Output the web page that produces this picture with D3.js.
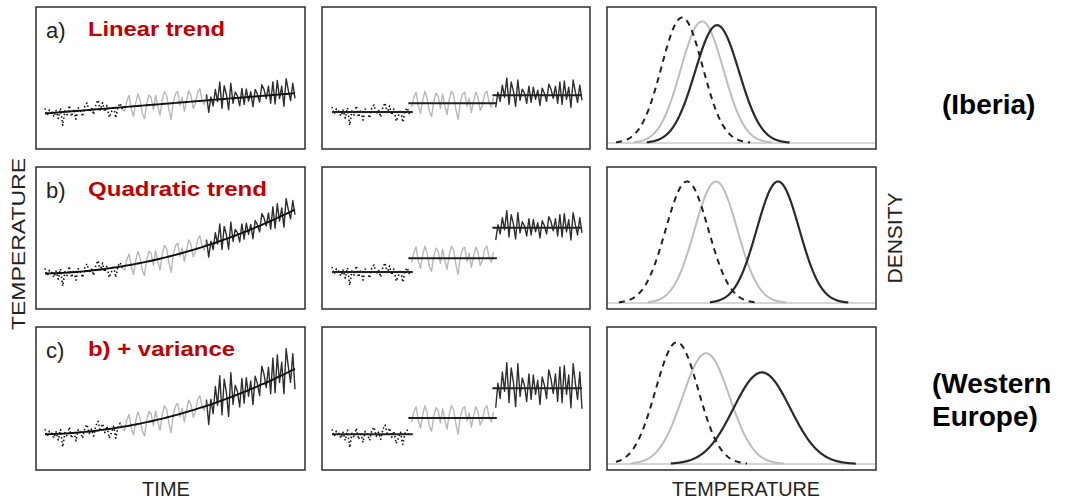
<!DOCTYPE html>
<html>
<head>
<meta charset="utf-8">
<script src="https://cdn.jsdelivr.net/npm/d3@7"></script>
<style>
  body { margin: 0; background: #fff; }
  svg { display: block; font-family: "Liberation Sans", Arial, sans-serif; }
</style>
</head>
<body>
<svg id="viz"></svg>
<script>
// ---------------------------
// Data
// ---------------------------

const rowLetters = ["a)", "b)", "c)"];
const rowTitles = ["Linear trend", "Quadratic trend", "b) + variance"];

// anomalies (temperature units)
const noiseEarly = [0.5, -0.2, 0.3, 0.1, -0.4, 0.2, -0.6, 0.4, -1.3, 0.1, -0.3, 0.6, -0.5, 0.2, -0.8, 0.3, 0.0, -0.6,
    0.4, 0.7, -0.2, 0.2, -0.5, 0.5, 0.9, -0.1, 0.6, -0.3, 0.3, -0.9, -0.4, 0.2, -1.0, 0.1, 0.4, -0.2];
const noiseMid = [-0.4, 0.6, 1.1, -0.2, -1.0, 0.3, 1.2, 0.5, -0.8, -1.3, 0.2, 1.0, 0.7, -0.5, 0.9, -0.2, -1.1, 0.4, 1.2,
    0.8, -0.6, -1.6, 0.1, 0.9, 1.1, -0.3, 0.5, -0.9, 0.2, 1.1, 0.6, -0.7, -0.2, 0.9, 1.2, 0.1, -0.4, 0.6];
const noiseLate = [-1.2, 0.3, -0.6, 1.0, -0.2, 1.7, -0.9, 1.3, 0.4, -1.1, 1.5, -0.5, 0.6, 0.2, -0.8, 0.9, -0.7, 0.8, -0.4, 0.5,
    -1.0, 0.7, 0.2, -0.6, 1.1, 0.6, -0.3, 0.9, -0.8, 1.3, -0.9, 1.4, -0.4, 0.8, -1.2, 1.5, 0.3, -0.7, 1.0, -0.5];
const noiseLateWide = [-1.9, 0.5, -1.0, 1.6, -0.3, 2.5, -1.4, 2.0, 0.6, -1.8, 2.4, -0.8, 1.0, 0.3, -1.3, 1.4, -1.1, 1.3, -0.6, 0.8,
    -1.6, 1.1, 0.3, -1.0, 1.8, 0.9, -0.5, 1.4, -1.3, 2.1, -1.4, 2.2, -0.6, 1.3, -1.9, 2.4, 0.5, -1.1, 1.6, -2.0];

// trend = a*t + b*t^2, t from 0 to 1
const trendA = [2.0, 0.5, 0.5];
const trendB = [0.0, 5.8, 5.9];

// segment means shown in the middle column
const segMeans = [
    [0.15, 1.0, 1.8],
    [0.15, 1.5, 4.5],
    [0.0, 1.6, 4.5]
];

// density curves: dashed (early), grey (mid), dark (late)
const densMeans = [
    [3.35, 4.24, 4.91],
    [3.57, 4.86, 7.63],
    [3.12, 4.42, 6.91]
];
const densSds = [
    [0.92, 0.95, 0.98],
    [0.95, 0.95, 0.95],
    [0.955, 1.05, 1.27]
];

// ---------------------------
// Create SVG
// ---------------------------

const width = 1069;
const height = 502;

const svg = d3.select("#viz")
    .attr("width", width)
    .attr("height", height)
    .attr("viewBox", `0 0 ${width} ${height}`);

const cols = [[36, 305], [322, 590], [607, 876]];
const rowsY = [[7, 149], [167, 309], [327, 470]];

const segNoise = (r) => [noiseEarly, noiseMid, r === 2 ? noiseLateWide : noiseLate];
const nTotal = noiseEarly.length + noiseMid.length + noiseLate.length;

const segStyle = [
    {stroke: "#111", width: 1.6, dash: "1.5,2.4"},
    {stroke: "#b8b8b8", width: 1.4, dash: null},
    {stroke: "#2e2e2e", width: 1.4, dash: null}
];

function panelBox(c, r) {
    svg.append("rect")
        .attr("x", cols[c][0])
        .attr("y", rowsY[r][0])
        .attr("width", cols[c][1] - cols[c][0])
        .attr("height", rowsY[r][1] - rowsY[r][0])
        .attr("fill", "none")
        .attr("stroke", "#3a3a3a")
        .attr("stroke-width", 1.6);
}

rowsY.forEach((ry, r) => {

    const y = d3.scaleLinear([-3.5, 10.5], [ry[1], ry[0]]);
    const noise = segNoise(r);

    // build segments (index offsets)
    let offset = 0;
    const segs = noise.map(arr => {
        const s = arr.map((v, i) => ({i: offset + i, v}));
        offset += arr.length;
        return s;
    });

    const trend = i => {
        const t = i / (nTotal - 1);
        return trendA[r] * t + trendB[r] * t * t;
    };

    // ----- left: series + trend -----
    const xL = d3.scaleLinear([0, nTotal - 1], [cols[0][0] + 9, cols[0][1] - 10]);
    const g1 = svg.append("g");

    segs.forEach((s, k) => {
        const pts = k > 0 ? [segs[k - 1][segs[k - 1].length - 1]].concat(s) : s;
        g1.append("path")
            .datum(pts)
            .attr("fill", "none")
            .attr("stroke", segStyle[k].stroke)
            .attr("stroke-width", segStyle[k].width)
            .attr("stroke-dasharray", segStyle[k].dash)
            .attr("stroke-linejoin", "round")
            .attr("d", d3.line().x(d => xL(d.i)).y(d => y(trend(d.i) + d.v)));
    });

    g1.append("path")
        .datum(d3.range(0, nTotal))
        .attr("fill", "none")
        .attr("stroke", "#111")
        .attr("stroke-width", 1.9)
        .attr("d", d3.line().x(i => xL(i)).y(i => y(trend(i))));

    panelBox(0, r);

    svg.append("text")
        .attr("x", 46)
        .attr("y", ry[0] + 31)
        .attr("font-size", 22)
        .attr("fill", "#222")
        .text(rowLetters[r]);

    svg.append("text")
        .attr("x", 88)
        .attr("y", ry[0] + 29)
        .attr("font-size", 21)
        .attr("font-weight", "bold")
        .attr("fill", "#c00000")
        .attr("textLength", [137, 179, 147][r])
        .attr("lengthAdjust", "spacingAndGlyphs")
        .text(rowTitles[r]);

    // ----- middle: segment means -----
    const xM = d3.scaleLinear([0, nTotal - 1], [cols[1][0] + 10, cols[1][1] - 8]);
    const g2 = svg.append("g");

    segs.forEach((s, k) => {
        g2.append("path")
            .datum(s)
            .attr("fill", "none")
            .attr("stroke", segStyle[k].stroke)
            .attr("stroke-width", segStyle[k].width)
            .attr("stroke-dasharray", segStyle[k].dash)
            .attr("stroke-linejoin", "round")
            .attr("d", d3.line().x(d => xM(d.i)).y(d => y(segMeans[r][k] + d.v)));
    });

    segs.forEach((s, k) => {
        const i0 = s[0].i - (k > 0 ? 1.5 : 0);
        const i1 = s[s.length - 1].i + (k < 2 ? 1.5 : 0);
        g2.append("line")
            .attr("x1", xM(i0))
            .attr("x2", xM(i1))
            .attr("y1", y(segMeans[r][k]))
            .attr("y2", y(segMeans[r][k]))
            .attr("stroke", "#222")
            .attr("stroke-width", 2);
    });

    panelBox(1, r);

    // ----- right: densities -----
    const xD = d3.scaleLinear([0, 12], [cols[2][0], cols[2][1]]);
    const yD = d3.scaleLinear([0, 0.47], [ry[1] - 6, ry[0]]);
    const g3 = svg.append("g");

    g3.append("line")
        .attr("x1", cols[2][0])
        .attr("x2", cols[2][1])
        .attr("y1", yD(0))
        .attr("y2", yD(0))
        .attr("stroke", "#c8c8c8")
        .attr("stroke-width", 1.5);

    const densStyle = [
        {stroke: "#222", width: 2, dash: "6,5"},
        {stroke: "#bdbdbd", width: 2, dash: null},
        {stroke: "#2a2a2a", width: 2.2, dash: null}
    ];

    [1, 2, 0].forEach(k => {
        const m = densMeans[r][k];
        const s = densSds[r][k];
        const lo = Math.max(0.4, m - 3.2 * s);
        const hi = Math.min(11.8, m + 3.3 * s);
        const xs = d3.range(lo, hi + 0.001, s / 40);
        g3.append("path")
            .datum(xs)
            .attr("fill", "none")
            .attr("stroke", densStyle[k].stroke)
            .attr("stroke-width", densStyle[k].width)
            .attr("stroke-dasharray", densStyle[k].dash)
            .attr("d", d3.line()
                .x(v => xD(v))
                .y(v => yD(Math.exp(-0.5 * ((v - m) / s) ** 2) / (s * Math.sqrt(2 * Math.PI)))));
    });

    panelBox(2, r);
});

// ---------------------------
// Axis titles and region labels
// ---------------------------

svg.append("text")
    .attr("transform", "translate(25,244) rotate(-90)")
    .attr("text-anchor", "middle")
    .attr("font-size", 18)
    .attr("fill", "#222")
    .attr("textLength", 172)
    .attr("lengthAdjust", "spacingAndGlyphs")
    .text("TEMPERATURE");

svg.append("text")
    .attr("transform", "translate(902,238) rotate(-90)")
    .attr("text-anchor", "middle")
    .attr("font-size", 20)
    .attr("fill", "#222")
    .attr("textLength", 91)
    .attr("lengthAdjust", "spacingAndGlyphs")
    .text("DENSITY");

svg.append("text")
    .attr("x", 166)
    .attr("y", 496)
    .attr("text-anchor", "middle")
    .attr("font-size", 20)
    .attr("fill", "#222")
    .text("TIME");

svg.append("text")
    .attr("x", 746)
    .attr("y", 496)
    .attr("text-anchor", "middle")
    .attr("font-size", 20)
    .attr("fill", "#222")
    .attr("textLength", 148)
    .attr("lengthAdjust", "spacingAndGlyphs")
    .text("TEMPERATURE");

const regionText = [
    {lines: ["(Iberia)"], x: 942, y: 114},
    {lines: ["(Western", "Europe)"], x: 932, y: 393}
];

regionText.forEach(d => {
    d.lines.forEach((t, i) => {
        svg.append("text")
            .attr("x", d.x)
            .attr("y", d.y + i * 33)
            .attr("font-size", 28)
            .attr("font-weight", "bold")
            .attr("fill", "#000")
            .text(t);
    });
});
</script>
</body>
</html>
